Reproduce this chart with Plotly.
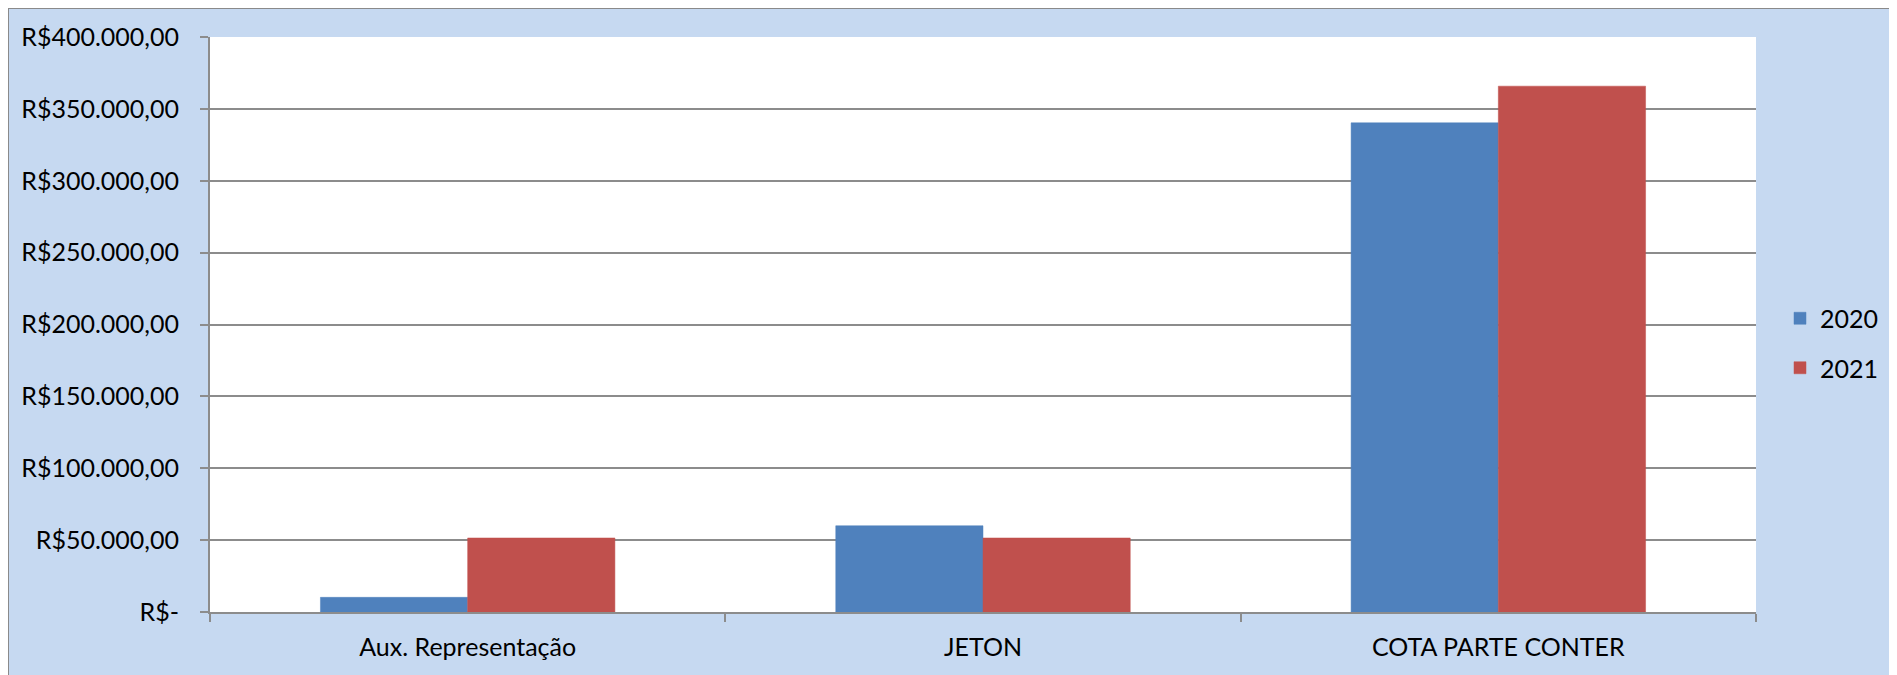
import plotly.graph_objects as go

categories = ["Aux. Representação", "JETON", "COTA PARTE CONTER"]
series_names = ["2020", "2021"]
values_2020 = [10200, 60000, 340300]
values_2021 = [51500, 51500, 365800]
y_tick_values = [0, 50000, 100000, 150000, 200000, 250000, 300000, 350000, 400000]
y_tick_labels = ["R$-", "R$50.000,00", "R$100.000,00", "R$150.000,00", "R$200.000,00",
                 "R$250.000,00", "R$300.000,00", "R$350.000,00", "R$400.000,00"]

colors = ["#4F81BD", "#C0504D"]
BG = "#C6D9F1"
GRID = "#8C8C8C"
FONT = "Lato"
FS = 25

W, H = 1897, 675
OFF = 8  # browser body margin
L, T = 210 - OFF, 37 - OFF
RIGHT, BOTTOM = 1756 - OFF, 612 - OFF
R, B = W - RIGHT, H - BOTTOM
pw, ph = W - L - R, H - T - B

fig = go.Figure()
for name, vals, c in zip(series_names, [values_2020, values_2021], colors):
    fig.add_trace(go.Bar(
        x=categories, y=vals, name=name, legendgroup=name,
        marker=dict(color=c, line=dict(color=c, width=0.5)),
    ))

def px_x(p):
    return (p - OFF - L) / pw

def px_y(p):
    return 1 - (p - OFF - T) / ph

shapes = [
    dict(type="line", xref="paper", yref="paper", layer="below",
         x0=px_x(OFF), x1=px_x(OFF), y0=px_y(OFF), y1=px_y(H + 20),
         line=dict(color="#8A8A8A", width=2)),
    dict(type="line", xref="paper", yref="paper", layer="below",
         x0=px_x(OFF), x1=px_x(W + 20), y0=px_y(OFF), y1=px_y(OFF),
         line=dict(color="#8A8A8A", width=2)),
]

fig.update_layout(
    width=W, height=H,
    margin=dict(l=L, r=R, t=T, b=B, pad=0),
    paper_bgcolor=BG, plot_bgcolor="white",
    barmode="group", bargap=1.5 / 3.5, bargroupgap=0,
    font=dict(family=FONT, size=FS, color="#000000"),
    shapes=shapes,
    showlegend=True,
    legend=dict(x=px_x(1780), xanchor="left", y=px_y(343), yanchor="middle",
                bgcolor="rgba(0,0,0,0)", font=dict(family=FONT, size=FS),
                tracegroupgap=14, traceorder="grouped"),
)

fig.update_xaxes(
    type="category", tickson="boundaries", ticks="outside", ticklen=8,
    tickwidth=1.5, tickcolor=GRID, showline=True, linecolor=GRID, linewidth=2,
    showgrid=False, ticklabelstandoff=12, automargin=False,
    tickfont=dict(family=FONT, size=FS, color="#000"),
)
fig.update_yaxes(
    range=[0, 400000], tickvals=y_tick_values, ticktext=y_tick_labels,
    ticks="outside", ticklen=8, tickwidth=1.5, tickcolor=GRID,
    showline=True, linecolor=GRID, linewidth=2,
    showgrid=True, gridcolor=GRID, gridwidth=1.5, zeroline=False,
    ticklabelstandoff=16, automargin=False,
    tickfont=dict(family=FONT, size=FS, color="#000"),
)

fig.write_html("out.html")
